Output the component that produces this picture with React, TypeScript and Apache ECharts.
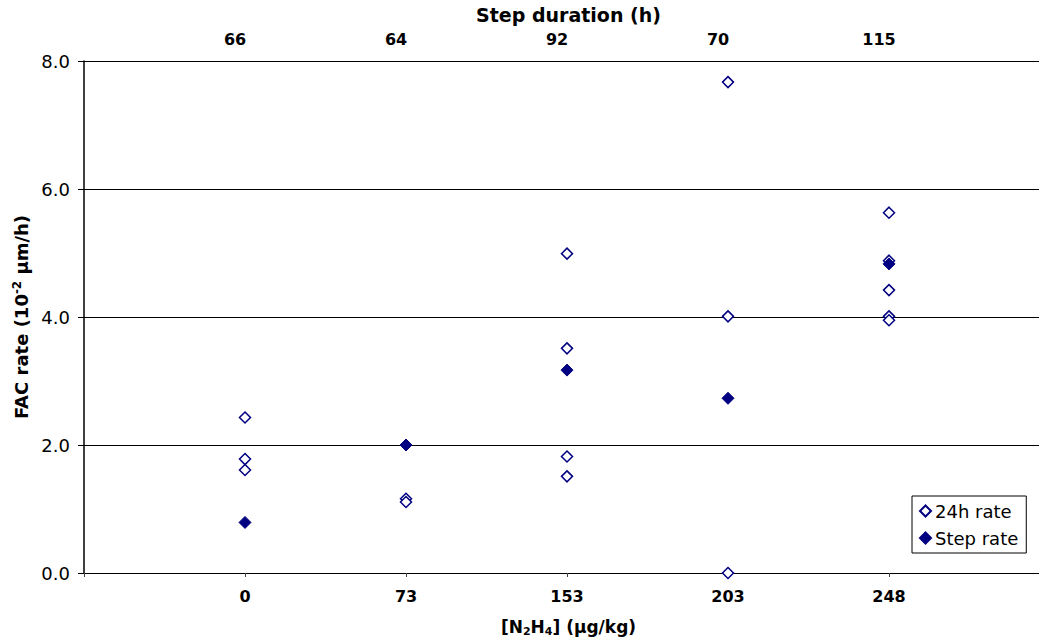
import React, { useEffect, useRef } from "react";
import * as echarts from "echarts";

const concentrations = ["0", "73", "153", "203", "248"];
const durations = ["66", "64", "92", "70", "115"];
// 24 h rates per concentration step (10^-2 µm/h)
const rate24h: number[][] = [
  [2.43, 1.78, 1.61],
  [1.16, 1.11],
  [4.99, 3.51, 1.82, 1.51],
  [7.67, 4.01, 0.0],
  [5.63, 4.88, 4.42, 4.01, 3.95],
];
const stepRate = [0.79, 2.0, 3.17, 2.73, 4.83];
const yTicks = [0, 2, 4, 6, 8];

const FONT = "DejaVu Sans";
const NAVY = "#000080";

export default function App() {
  const ref = useRef<HTMLDivElement>(null);
  useEffect(() => {
    if (!ref.current) return;
    const chart = echarts.init(ref.current, null, { renderer: "svg" });
    const pts24: number[][] = [];
    rate24h.forEach((vals, i) => vals.forEach((v) => pts24.push([i + 1, v])));
    const ptsStep = stepRate.map((v, i) => [i + 1, v]);
    const xMax = 955 / 161;
    const catLabel = (arr: string[]) => (v: number) =>
      Number.isInteger(v) && v >= 1 && v <= arr.length ? arr[v - 1] : "";
    chart.setOption({
      animation: false,
      backgroundColor: "#fff",
      grid: { left: 84, right: 0, top: 60, bottom: 71, containLabel: false },
      legend: {
        orient: "vertical",
        left: 912,
        top: 496,
        padding: [6, 8, 6, 7],
        itemGap: 9,
        itemWidth: 11,
        itemHeight: 11,
        borderColor: "#000",
        borderWidth: 1,
        backgroundColor: "#fff",
        textStyle: { fontFamily: FONT, fontSize: 18, color: "#000", padding: [0, 0, 0, -1] },
        data: ["24h rate", "Step rate"],
      },
      xAxis: [
        {
          type: "value",
          position: "bottom",
          min: 0,
          max: xMax,
          interval: 1,
          splitLine: { show: false },
          axisLine: { show: true, lineStyle: { color: "#000", width: 1 } },
          axisTick: { show: true, length: 4, lineStyle: { color: "#444" } },
          axisLabel: {
            formatter: catLabel(concentrations),
            fontFamily: FONT,
            fontWeight: "bold",
            fontSize: 16,
            color: "#000",
            margin: 15,
            showMaxLabel: false,
          },
          name: "{b|[N}{sub|2}{b|H}{sub|4}{b|] (µg/kg)}",
          nameLocation: "middle",
          nameGap: 44,
          nameTextStyle: {
            padding: [0, 0, 0, 14],
            rich: {
              b: { fontFamily: FONT, fontWeight: "bold", fontSize: 17, color: "#000", lineHeight: 20 },
              sub: { fontFamily: FONT, fontWeight: "bold", fontSize: 11, color: "#000", lineHeight: 12, verticalAlign: "bottom" },
            },
          },
        },
        {
          type: "value",
          position: "top",
          min: 0,
          max: xMax,
          interval: 1,
          splitLine: { show: false },
          axisLine: { show: false },
          axisTick: { show: false },
          axisLabel: {
            formatter: catLabel(durations),
            fontFamily: FONT,
            fontWeight: "bold",
            fontSize: 16,
            color: "#000",
            margin: 14,
            padding: [0, 20, 0, 0],
            showMaxLabel: false,
          },
          name: "Step duration (h)",
          nameLocation: "middle",
          nameGap: 37,
          nameTextStyle: { fontFamily: FONT, fontWeight: "bold", fontSize: 19, color: "#000", padding: [0, 0, 0, 14] },
        },
      ],
      yAxis: {
        type: "value",
        min: yTicks[0],
        max: yTicks[yTicks.length - 1],
        interval: 2,
        axisLine: { show: true, lineStyle: { color: "#000", width: 1.5 } },
        axisTick: { show: true, inside: false, length: 6, lineStyle: { color: "#000" } },
        splitLine: { show: true, lineStyle: { color: "#000", width: 1 } },
        axisLabel: {
          formatter: (v: number) => v.toFixed(1),
          fontFamily: FONT,
          fontSize: 18,
          color: "#000",
          margin: 14,
        },
        name: "{b|FAC rate (10}{sup|-2}{b| µm/h)}",
        nameLocation: "middle",
        nameGap: 49,
        nameTextStyle: {
          rich: {
            b: { fontFamily: FONT, fontWeight: "bold", fontSize: 18, color: "#000", lineHeight: 21 },
            sup: { fontFamily: FONT, fontWeight: "bold", fontSize: 12, color: "#000", lineHeight: 12, verticalAlign: "top" },
          },
        },
      },
      series: [
        {
          name: "24h rate",
          type: "scatter",
          xAxisIndex: 0,
          symbol: "diamond",
          symbolSize: 11,
          clip: false,
          itemStyle: { color: "#fff", borderColor: NAVY, borderWidth: 1.5, opacity: 1 },
          data: pts24,
          z: 2,
        },
        {
          name: "Step rate",
          type: "scatter",
          xAxisIndex: 0,
          symbol: "diamond",
          symbolSize: 12,
          clip: false,
          itemStyle: { color: NAVY, borderColor: NAVY, borderWidth: 1, opacity: 1 },
          data: ptsStep,
          z: 3,
        },
      ],
    });
    return () => chart.dispose();
  }, []);
  return (
    <div
      ref={ref}
      style={{ position: "absolute", left: 0, top: 0, width: 1039, height: 644, background: "#fff" }}
    />
  );
}
